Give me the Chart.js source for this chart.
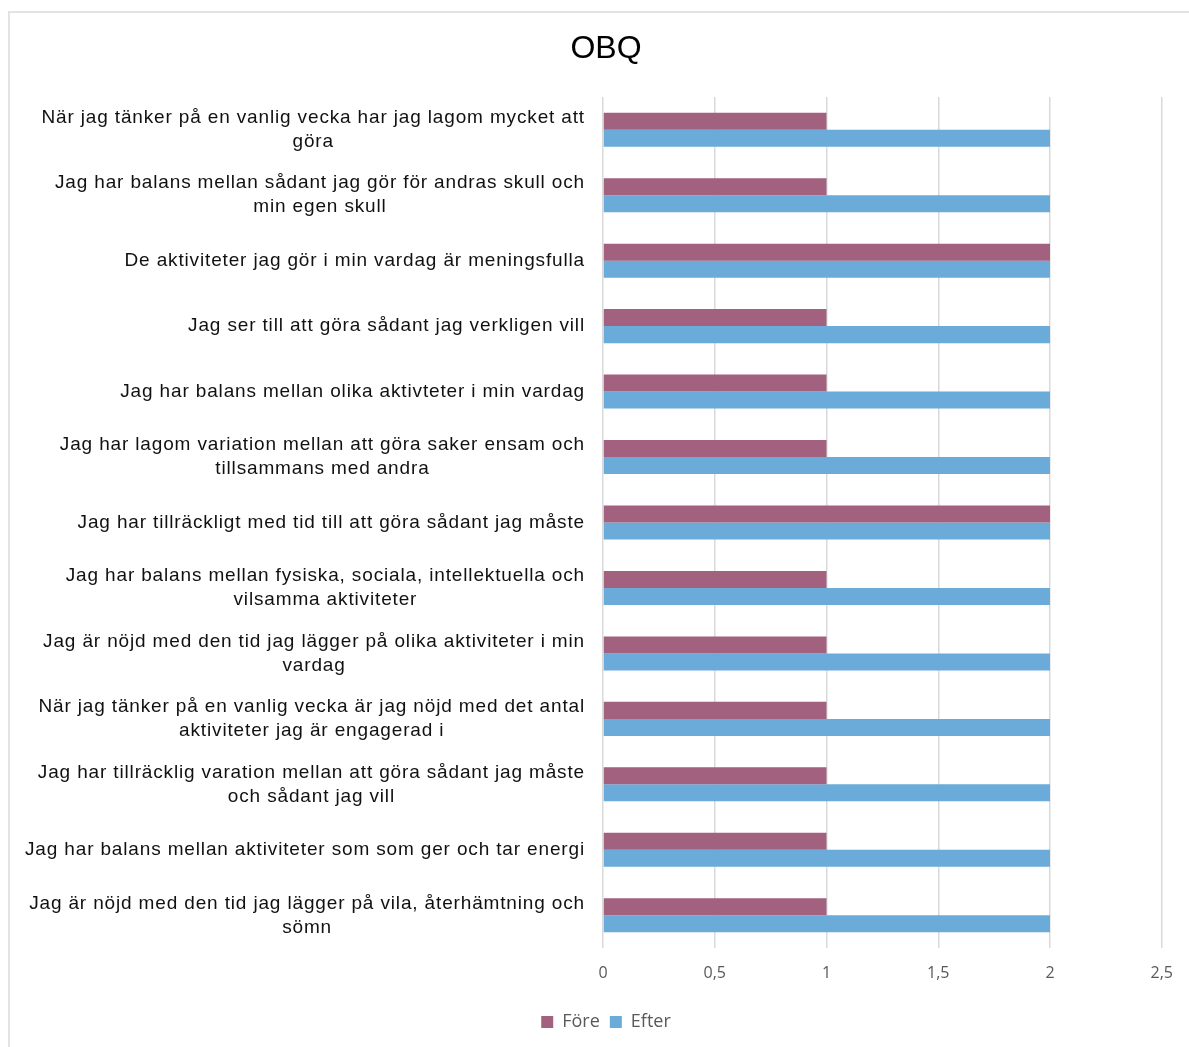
<!DOCTYPE html>
<html lang="sv">
<head>
<meta charset="utf-8">
<title>OBQ</title>
<script src="https://cdn.jsdelivr.net/npm/chart.js@4"></script>
<style>
    html, body { margin: 0; padding: 0; background: #fff; overflow: hidden; }
    .frame {
        position: absolute; left: 8px; top: 11px;
        width: 1200px; height: 1060px;
        border: 2px solid #e3e3e3; box-sizing: border-box;
    }
    .chart-wrap { position: absolute; left: 0; top: 0; width: 1189px; height: 1047px; }
</style>
</head>
<body>
<div class="frame"></div>
<div class="chart-wrap"><canvas id="obqChart" width="1189" height="1047"></canvas></div>
<script>
const questions = [
    ["När jag tänker på en vanlig vecka har jag lagom mycket att", "göra"],
    ["Jag har balans mellan sådant jag gör för andras skull och", "min egen skull"],
    ["De aktiviteter jag gör i min vardag är meningsfulla"],
    ["Jag ser till att göra sådant jag verkligen vill"],
    ["Jag har balans mellan olika aktivteter i min vardag"],
    ["Jag har lagom variation mellan att göra saker ensam och", "tillsammans med andra"],
    ["Jag har tillräckligt med tid till att göra sådant jag måste"],
    ["Jag har balans mellan fysiska, sociala, intellektuella och", "vilsamma aktiviteter"],
    ["Jag är nöjd med den tid jag lägger på olika aktiviteter i min", "vardag"],
    ["När jag tänker på en vanlig vecka är jag nöjd med det antal", "aktiviteter jag är engagerad i"],
    ["Jag har tillräcklig varation mellan att göra sådant jag måste", "och sådant jag vill"],
    ["Jag har balans mellan aktiviteter som som ger och tar energi"],
    ["Jag är nöjd med den tid jag lägger på vila, återhämtning och", "sömn"]
];
const fore = [1, 1, 2, 1, 1, 1, 2, 1, 1, 1, 1, 1, 1];
const efter = [2, 2, 2, 2, 2, 2, 2, 2, 2, 2, 2, 2, 2];
const xTicks = [0, 0.5, 1, 1.5, 2, 2.5];

let obqChart = null;

// y labels: block right-aligned, lines centred inside the block (like Excel)
const questionLabels = {
    id: 'questionLabels',
    afterDraw(chart) {
        const scale = chart.scales.y;
        const ctx = chart.ctx;
        const right = chart.chartArea.left - 18;
        const lineH = 24;
        ctx.save();
        ctx.font = '19px "Liberation Sans", Arial, sans-serif';
        ctx.letterSpacing = '0.85px';
        ctx.fillStyle = '#111';
        ctx.textAlign = 'center';
        ctx.textBaseline = 'middle';
        questions.forEach((lines, i) => {
            const y = scale.getPixelForValue(i);
            const blockW = Math.max(...lines.map(l => ctx.measureText(l).width));
            const cx = right - blockW / 2;
            const y0 = y - (lines.length - 1) * lineH / 2;
            lines.forEach((l, j) => ctx.fillText(l, cx, y0 + j * lineH));
        });
        ctx.restore();
    }
};

document.addEventListener('DOMContentLoaded', () => {
    initObqChart();
});

function initObqChart() {
    const ctx = document.getElementById('obqChart').getContext('2d');
    if (obqChart) obqChart.destroy();

    obqChart = new Chart(ctx, {
        type: 'bar',
        data: {
            labels: questions,
            datasets: [
                { label: 'Före', data: fore, backgroundColor: '#A2617E' },
                { label: 'Efter', data: efter, backgroundColor: '#6AABD9' }
            ]
        },
        options: {
            indexAxis: 'y',
            responsive: false,
            animation: false,
            categoryPercentage: 0.52,
            barPercentage: 1,
            // left padding pushes title/legend centre right, as in the original
            layout: { padding: { left: 50, right: 27, top: 0, bottom: 6 } },
            plugins: {
                title: {
                    display: true,
                    text: 'OBQ',
                    color: '#000',
                    font: { family: '"Liberation Sans", Arial, sans-serif', size: 32, weight: 'normal' },
                    padding: { top: 30, bottom: 28.6 }
                },
                legend: {
                    position: 'bottom',
                    labels: {
                        color: '#595959',
                        boxWidth: 12,
                        boxHeight: 12,
                        padding: 10,
                        font: { family: '"Open Sans", sans-serif', size: 18 }
                    }
                },
                tooltip: { enabled: false }
            },
            scales: {
                x: {
                    min: 0,
                    max: 2.5,
                    afterBuildTicks: scale => { scale.ticks = xTicks.map(v => ({ value: v })); },
                    afterFit: scale => { scale.height = 55; },
                    grid: { color: '#d9d9d9', lineWidth: 1.5, drawTicks: false },
                    border: { display: false },
                    ticks: {
                        color: '#595959',
                        padding: 16,
                        font: { family: '"Open Sans", sans-serif', size: 16 },
                        callback: v => String(v).replace('.', ',')
                    }
                },
                y: {
                    grid: { display: false },
                    border: { display: false },
                    ticks: { display: false },
                    afterFit: scale => { scale.width = 603 - 50; }
                }
            }
        },
        plugins: [questionLabels]
    });
}
</script>
</body>
</html>
